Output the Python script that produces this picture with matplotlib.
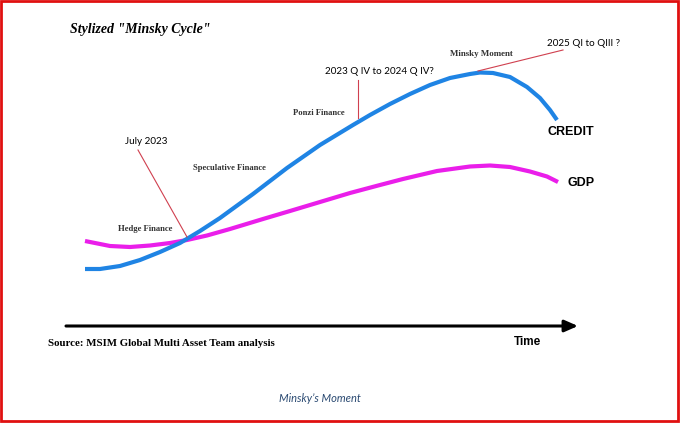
import matplotlib
matplotlib.use("Agg")
import matplotlib.pyplot as plt
from matplotlib.patches import Rectangle

# Stylized curves (x = time position, y = level, image-style coords)
credit_x = [85, 100, 120, 140, 160, 180, 200, 220, 253, 287, 320, 353, 370, 390, 410,
            430, 450, 470, 480, 493, 510, 527, 540, 550, 557]
credit_y = [269, 269, 266, 260, 252, 243, 231, 218, 194, 168, 145, 125, 115, 104, 94,
            85, 78, 74, 72.5, 73, 77, 87, 98, 110, 120]
gdp_x = [85, 110, 130, 150, 170, 187, 207, 230, 263, 290, 320, 350, 380, 403, 437,
         470, 490, 510, 530, 547, 558]
gdp_y = [241, 246, 247, 245.5, 243, 240, 235.5, 229, 219, 211, 202, 193, 185, 179, 171,
         166.5, 165.5, 167, 171.5, 176.5, 182]

W, H = 680, 423
fig = plt.figure(figsize=(W / 100, H / 100), dpi=100)
ax = fig.add_axes([0, 0, 1, 1])
ax.set_xlim(0, W)
ax.set_ylim(H, 0)
ax.axis("off")

blue = "#1f84e4"
mag = "#ea1eea"
red = "#d0404f"

ax.plot(gdp_x, gdp_y, color=mag, lw=3.0, solid_capstyle="butt", solid_joinstyle="round", zorder=3)
ax.plot(credit_x, credit_y, color=blue, lw=3.0, solid_capstyle="butt", solid_joinstyle="round", zorder=4)

serif = "Liberation Serif"
sans = "Lato"
bold_sans = "Liberation Sans"

ax.text(70, 30, 'Stylized "Minsky Cycle"', fontfamily=serif, fontweight="bold",
        fontstyle="italic", fontsize=10, va="center", ha="left")

ax.text(547, 43, "2025 QI to QIII ?", fontfamily=sans, fontsize=7.1, va="center", ha="left")
ax.text(450, 54, "Minsky Moment", fontfamily=serif, fontweight="bold", fontsize=6.4,
        color="#333333", va="center", ha="left")
ax.text(325, 72, "2023 Q IV to 2024 Q IV?", fontfamily=sans, fontsize=7.1, va="center", ha="left")
ax.text(293, 113, "Ponzi Finance", fontfamily=serif, fontweight="bold", fontsize=6.2,
        color="#333333", va="center", ha="left")
ax.text(547, 132, "CREDIT", fontfamily=bold_sans, fontweight="bold", fontsize=9,
        va="center", ha="left")
ax.text(125, 142, "July 2023", fontfamily=sans, fontsize=7.1, va="center", ha="left")
ax.text(193, 168, "Speculative Finance", fontfamily=serif, fontweight="bold", fontsize=6.2,
        color="#333333", va="center", ha="left")
ax.text(568, 183, "GDP", fontfamily=bold_sans, fontweight="bold", fontsize=9,
        va="center", ha="left")
ax.text(118, 229, "Hedge Finance", fontfamily=serif, fontweight="bold", fontsize=6.2,
        color="#333333", va="center", ha="left")

# connector lines
ax.plot([138, 187], [150, 237], color=red, lw=0.8, zorder=5)
ax.plot([358, 358], [80, 118], color=red, lw=0.8, zorder=5)
ax.plot([563, 478], [50, 71], color=red, lw=0.8, zorder=5)

# time arrow
ax.annotate("", xy=(578, 326), xytext=(66, 326),
            arrowprops=dict(arrowstyle="-|>,head_length=0.8,head_width=0.35",
                            color="black", lw=2.2, shrinkA=0, shrinkB=0))
ax.text(48, 343, "Source: MSIM Global Multi Asset Team analysis", fontfamily=serif,
        fontweight="bold", fontsize=7.8, va="center", ha="left")
ax.text(514, 342, "Time", fontfamily=bold_sans, fontweight="bold", fontsize=8.5,
        va="center", ha="left")

ax.text(320, 399, "Minsky\u2019s Moment", fontfamily=sans, fontstyle="italic", fontsize=8,
        color="#2b4a72", va="center", ha="center")

# red frame
ax.add_patch(Rectangle((1, 1), W - 3, H - 3, fill=False, edgecolor="#e01010", lw=2, zorder=10))

fig.savefig("out.png", dpi=100)
